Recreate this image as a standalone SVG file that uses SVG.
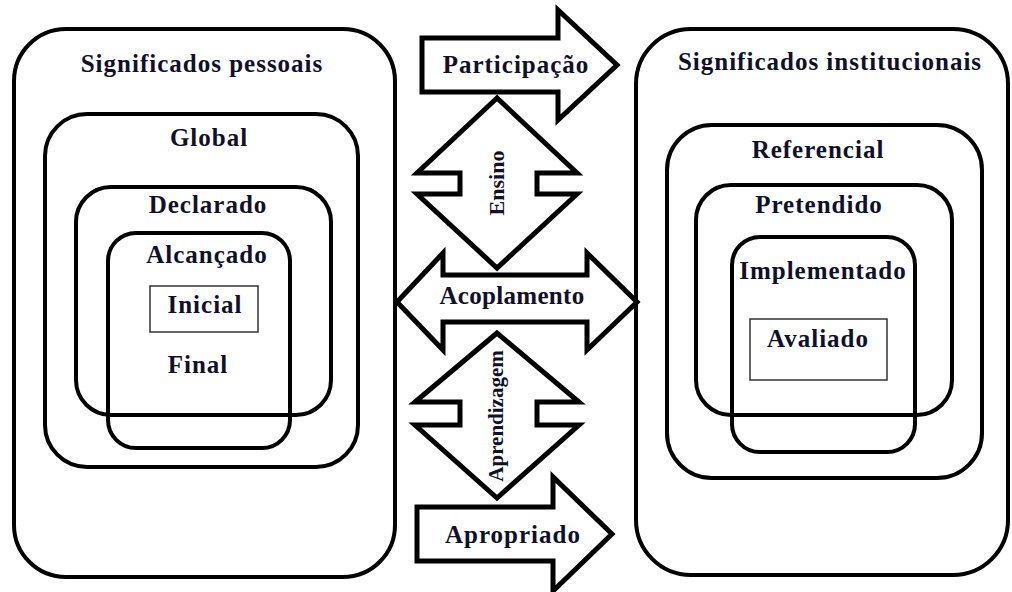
<svg xmlns="http://www.w3.org/2000/svg" width="1012" height="592" viewBox="0 0 1012 592">
<style>
.box{fill:none;stroke:#000;stroke-width:4}
.thin{fill:none;stroke:#333;stroke-width:1.5}
.arr{fill:#fff;stroke:#000;stroke-width:5;stroke-linejoin:miter}
.t{font-family:"Liberation Serif","Times New Roman",serif;font-weight:bold;font-size:25px;fill:#10102a;text-anchor:middle;letter-spacing:1px}
.v{font-family:"Liberation Serif","Times New Roman",serif;font-weight:bold;font-size:22px;fill:#10102a;text-anchor:middle}
</style>
<rect width="1012" height="592" fill="#fff"/>
<g id="pessoais">
<rect class="box" x="14" y="29" width="381" height="548" rx="52"/>
<text class="t" x="202" y="72">Significados pessoais</text>
</g>
<g id="global">
<rect class="box" x="45" y="114" width="313" height="353" rx="42"/>
<text class="t" x="209" y="146">Global</text>
</g>
<g id="declarado">
<rect class="box" x="76" y="187" width="255" height="228" rx="35"/>
<text class="t" x="208" y="213">Declarado</text>
</g>
<g id="alcancado">
<rect class="box" x="108" y="233" width="182" height="215" rx="28"/>
<text class="t" x="207" y="263">Alcançado</text>
</g>
<g id="inicial">
<rect class="thin" x="150" y="286" width="108" height="46"/>
<text class="t" x="205" y="313">Inicial</text>
</g>
<g id="final">
<text class="t" x="198" y="373">Final</text>
</g>
<g id="institucionais">
<rect class="box" x="636" y="29" width="372" height="546" rx="55"/>
<text class="t" x="830" y="70">Significados institucionais</text>
</g>
<g id="referencial">
<rect class="box" x="667" y="125" width="315" height="353" rx="45"/>
<text class="t" x="818" y="158">Referencial</text>
</g>
<g id="pretendido">
<rect class="box" x="696" y="185" width="256" height="230" rx="35"/>
<text class="t" x="819" y="213">Pretendido</text>
</g>
<g id="implementado">
<rect class="box" x="732" y="237" width="183" height="215" rx="28"/>
<text class="t" x="823" y="279">Implementado</text>
</g>
<g id="avaliado">
<rect class="thin" x="750" y="319" width="137" height="61"/>
<text class="t" x="818" y="347">Avaliado</text>
</g>
<g id="connectors">
<g id="participacao">
<polygon class="arr" points="422,38 558,38 558,10 617,65 558,120 558,92 422,92"/>
<text class="t" x="516" y="73">Participação</text>
</g>
<g id="ensino">
<polygon class="arr" points="497,98 417,173 460,173 460,194 417,194 497,268 577,194 537,194 537,173 577,173"/>
<text class="v" transform="translate(497,183) rotate(-90)" y="7">Ensino</text>
</g>
<g id="acoplamento">
<polygon class="arr" points="397,302 443,253 443,275 587,275 587,253 637,302 587,350 587,322 443,322 443,350"/>
<text class="t" x="512" y="304" style="letter-spacing:0.3px">Acoplamento</text>
</g>
<g id="aprendizagem">
<polygon class="arr" points="497,333 415,402 460,402 460,425 415,425 497,498 579,425 537,425 537,402 579,402"/>
<text class="v" transform="translate(497,416) rotate(-90)" y="6" style="font-size:21px">Aprendizagem</text>
</g>
<g id="apropriado">
<polygon class="arr" points="417,507 553,507 553,477 612,534 553,591 553,561 417,561"/>
<text class="t" x="513" y="543">Apropriado</text>
</g>
</g>
</svg>
